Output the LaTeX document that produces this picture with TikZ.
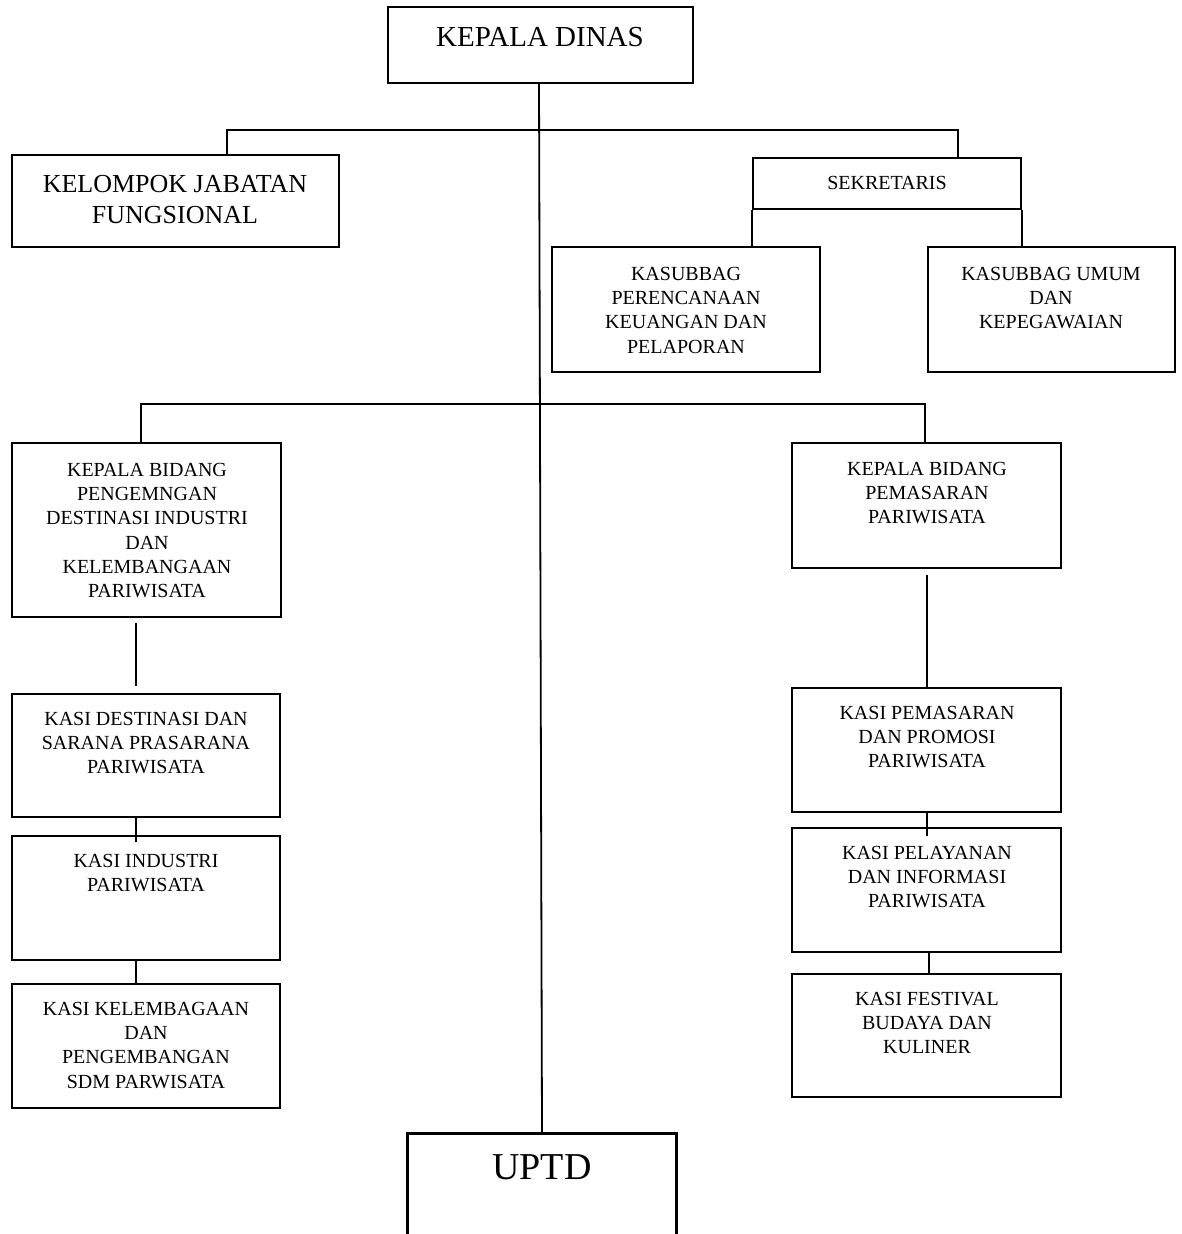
\documentclass[tikz,border=0pt]{standalone}
\usepackage{fontspec}
\setmainfont{Liberation Serif}
\usetikzlibrary{fit,calc}
\begin{document}
\begin{tikzpicture}[x=0.5pt,y=-0.5pt,
  box/.style={draw, line width=1.2pt, inner sep=0pt},
  frame/.style={inner sep=0pt},
  conn/.style={line width=0.9pt},
  txt/.style={align=center, inner sep=0pt, anchor=north, font=\fontsize{10}{12.15}\selectfont},
  bigtxt/.style={align=center, inner sep=0pt, anchor=north, font=\fontsize{13}{15.5}\selectfont}]
\useasboundingbox[fill=white] (0,0) rectangle (1181,1234);

% boxes
\node[box, fit={(388,7)(693,83)}] (kd) {};
\node[box, fit={(12,155)(339,247)}] (kjf) {};
\node[box, fit={(753,158)(1021,209)}] (sek) {};
\node[box, fit={(552,247)(820,372)}] (kper) {};
\node[box, fit={(928,247)(1175,372)}] (kum) {};
\node[box, fit={(12,443)(281,617)}] (kb1) {};
\node[box, fit={(792,443)(1061,568)}] (kb2) {};
\node[box, fit={(12,694)(280,817)}] (kdes) {};
\node[box, fit={(12,836)(280,960)}] (kind) {};
\node[box, fit={(12,984)(280,1108)}] (kkel) {};
\node[box, fit={(792,688)(1061,812)}] (kpem) {};
\node[box, fit={(792,828)(1061,952)}] (kpel) {};
\node[box, fit={(792,974)(1061,1097)}] (kfes) {};
\node[frame, fit={(408,1134)(676,1240)}] (uptd) {};
\draw[line width=1.2pt] (uptd.south west) -- (uptd.north west) -- (uptd.north east) -- (uptd.south east);

% texts
\node[align=center, inner sep=0pt, anchor=north, font=\fontsize{14.5}{17}\selectfont] (kdt) at (540,26.5) {KEPALA DINAS};
\node[bigtxt] (kjft) at (175,174.5) {KELOMPOK JABATAN\\FUNGSIONAL};
\node[txt] (sekt) at (887,175.5) {SEKRETARIS};
\node[txt] (kpert) at (686,266.5) {KASUBBAG\\PERENCANAAN\\KEUANGAN DAN\\PELAPORAN};
\node[txt] (kumt) at (1051,266.5) {KASUBBAG UMUM\\DAN\\KEPEGAWAIAN};
\node[txt] (kb1t) at (147,462.5) {KEPALA BIDANG\\PENGEMNGAN\\DESTINASI INDUSTRI\\DAN\\KELEMBANGAAN\\PARIWISATA};
\node[txt] (kb2t) at (927,461.5) {KEPALA BIDANG\\PEMASARAN\\PARIWISATA};
\node[txt] (kdest) at (146,711.5) {KASI DESTINASI DAN\\SARANA PRASARANA\\PARIWISATA};
\node[txt] (kindt) at (146,853.5) {KASI INDUSTRI\\PARIWISATA};
\node[txt] (kkelt) at (146,1001.5) {KASI KELEMBAGAAN\\DAN\\PENGEMBANGAN\\SDM PARWISATA};
\node[txt] (kpemt) at (927,705.5) {KASI PEMASARAN\\DAN PROMOSI\\PARIWISATA};
\node[txt] (kpelt) at (927,845.5) {KASI PELAYANAN\\DAN INFORMASI\\PARIWISATA};
\node[txt] (kfest) at (927,991.5) {KASI FESTIVAL\\BUDAYA DAN\\KULINER};
\node[align=center, inner sep=0pt, anchor=north, font=\fontsize{19}{22}\selectfont] (uptdt) at (542,1154.6) {UPTD};

% connectors
\coordinate (tl) at (227,130);
\coordinate (tr) at (958,130);
\coordinate (ml) at (141,404);
\coordinate (mr) at (925,404);
\coordinate (cl) at (136,0);
\coordinate (cr) at (927,0);
\coordinate (cr2) at (929,0);

\draw[conn] ([xshift=-0.75pt]kd.south) -- (uptd.north);
\draw[conn] (kjf.north -| tl) -- (tl) -- (tr) -- (sek.north -| tr);
\draw[conn] (sek.south west) -- (sek.south west |- kper.north);
\draw[conn] (sek.south east) -- (sek.south east |- kum.north);
\draw[conn] (kb1.north -| ml) -- (ml) -- (mr) -- (kb2.north -| mr);

\draw[conn] ([yshift=-2.5pt]kb1.south -| cl) -- ([yshift=3.5pt]kdes.north -| cl);
\draw[conn] (kdes.south -| cl) -- ([yshift=-3.5pt]kind.north -| cl);
\draw[conn] (kind.south -| cl) -- (kkel.north -| cl);

\draw[conn] ([yshift=-3pt]kb2.south -| cr) -- (kpem.north -| cr);
\draw[conn] (kpem.south -| cr) -- ([yshift=-4.5pt]kpel.north -| cr);
\draw[conn] (kpel.south -| cr2) -- (kfes.north -| cr2);
\end{tikzpicture}
\end{document}
